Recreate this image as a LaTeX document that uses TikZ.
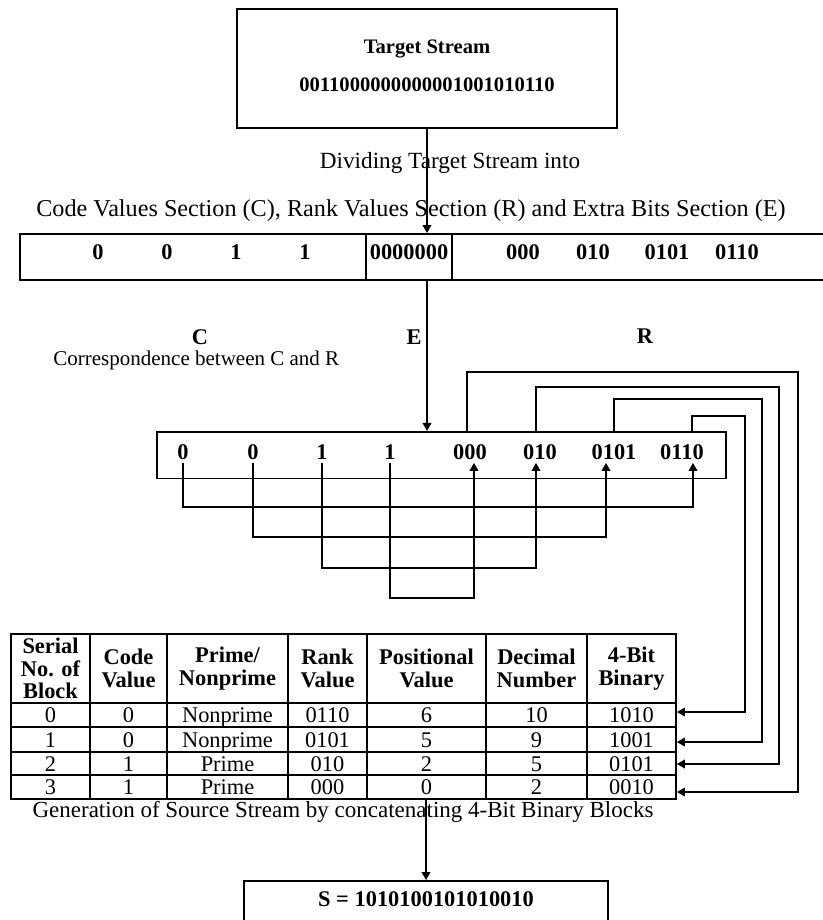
\documentclass[tikz,border=0pt]{standalone}
\usepackage{fontspec}
\setmainfont{Liberation Serif}
\usepackage{tikz}
\usetikzlibrary{arrows.meta, calc, positioning}

\begin{document}
\begin{tikzpicture}[x=0.5pt, y=-0.5pt, >={Triangle[length=4pt, width=4.4pt]},
  every node/.style={inner sep=1.5pt, font=\fontsize{11.2}{11.4}\selectfont},
  bold/.style={font=\fontsize{11.2}{11.4}\selectfont\bfseries},
  topbold/.style={font=\fontsize{10.3}{12}\selectfont\bfseries},
  boxframe/.style={draw, line width=1pt, inner sep=0pt},
  link/.style={line width=0.6pt},
  head/.style={bold, align=center},
  cell/.style={anchor=base},
  tabline/.style={line width=0.8pt}]

  \useasboundingbox (0,0) rectangle (823,920);

  % Target stream
  \node[boxframe, minimum width=190pt, minimum height=59.5pt] (target) at (427,68.5) {};
  \node[topbold] (ttitle) at (427,49) {Target Stream};
  \node[topbold] (tbits) at (427,85) {0011000000000001001010110};

  % Captions
  \node[font=\fontsize{11.6}{12}\selectfont] (divide) at (450,163) {Dividing Target Stream into};
  \node[font=\fontsize{12.1}{12}\selectfont] (sections) at (411,211) {Code Values Section (C), Rank Values Section (R) and Extra Bits Section (E)};

  % Sections bar
  \node[boxframe, minimum width=173pt, minimum height=23pt] (barC) at (193,257) {};
  \node[boxframe, minimum width=43pt, minimum height=23pt] (barE) at (409,257) {};
  \node[boxframe, minimum width=189pt, minimum height=23pt] (barR) at (641,257) {};
  \foreach \x/\v [count=\i] in {98/0, 167/0, 236/1, 305/1, 409/0000000, 523/000, 593/010, 667/0101, 737/0110}
    \node[bold] (bar\i) at (\x,252) {\v};

  \draw[link,->] (target.south) -- (target.south |- barE.north);

  % Section labels
  \node[bold] (lblC) at (200,337) {C};
  \node[bold] (lblE) at (414,337) {E};
  \node[bold] (lblR) at (645,336) {R};
  \node[anchor=west, font=\fontsize{10.5}{12}\selectfont] (corr) at (50,360) {Correspondence between C and R};

  % Correspondence box
  \node[boxframe, line width=0.8pt, minimum width=284.5pt, minimum height=23.3pt] (box2) at (441.5,455) {};
  \foreach \x/\v [count=\i] in {183/0, 253/0, 322/1, 390/1}
    \node[bold] (c\i) at (\x,452) {\v};
  \foreach \x/\v [count=\i] in {470/000, 540/010, 614/0101, 682/0110}
    \node[bold] (r\i) at (\x,452) {\v};

  \draw[link,->] (target.south |- barE.south) -- (target.south |- box2.north);

  % C to R links
  \draw[link,->] (c1.south) -- (c1.south |- 0,507) -| ($(r4.south)+(11,0)$);
  \draw[link,->] (c2.south) -- (c2.south |- 0,537) -| ($(r3.south)+(-8,0)$);
  \draw[link,->] (c3.south) -- (c3.south |- 0,568) -| ($(r2.south)+(-4,0)$);
  \draw[link,->] (c4.south) -- (c4.south |- 0,598) -| ($(r1.south)+(4,0)$);

  % Table
  \node[draw, line width=0.9pt, minimum width=332.5pt, minimum height=82.5pt, inner sep=0pt] (tab) at (343.5,716.5) {};
  \foreach \x in {90,167,288,367,486,587}
    \draw[tabline] (\x,634) -- (\x,799);
  \foreach \y in {703,727,752,775}
    \draw[tabline] (11,\y) -- (676,\y);

  \foreach \x/\t [count=\i] in {50.5/{Serial\\No. of\\Block}, 128.5/{Code\\Value}, 227.5/{Prime/\\Nonprime}, 327.5/{Rank\\Value}, 426.5/{Positional\\Value}, 536.5/{Decimal\\Number}, 631.5/{4-Bit\\Binary}}
    \node[head] (h\i) at (\x,668.5) {\t};

  \foreach \y/\ser/\code/\pn/\rank/\pos/\dec/\bin [count=\i from 0] in {722.5/0/0/Nonprime/0110/6/10/1010, 747/1/0/Nonprime/0101/5/9/1001, 771/2/1/Prime/010/2/5/0101, 794.5/3/1/Prime/000/0/2/0010} {
    \node[cell] (sn\i) at (50.5,\y) {\ser};
    \node[cell] (cv\i) at (128.5,\y) {\code};
    \node[cell] (pn\i) at (227.5,\y) {\pn};
    \node[cell] (rv\i) at (327.5,\y) {\rank};
    \node[cell] (pv\i) at (426.5,\y) {\pos};
    \node[cell] (dn\i) at (536.5,\y) {\dec};
    \node[cell] (bb\i) at (631.5,\y) {\bin};
  }

  % R to table links
  \draw[link,->] ($(r1.north |- box2.north)+(-3,0)$) |- (798,372) |- (tab.east |- 0,792);
  \draw[link,->] ($(r2.north |- box2.north)+(-4,0)$) |- (779,387) |- (tab.east |- 0,764);
  \draw[link,->] (r3.north |- box2.north) |- (762,399) |- (tab.east |- 0,742);
  \draw[link,->] ($(r4.north |- box2.north)+(10,0)$) |- (745,416) |- (tab.east |- 0,712);

  % Source stream
  \node[font=\fontsize{11.5}{12}\selectfont] (gen) at (343,812) {Generation of Source Stream by concatenating 4-Bit Binary Blocks};
  \node[boxframe, line width=0.9pt, minimum width=182pt, minimum height=40pt, anchor=north] (result) at (426,880) {};
  \node[bold] (stext) at (426,899) {S = 1010100101010010};
  \draw[link,->] (result.north |- tab.south) -- (result.north);

\end{tikzpicture}
\end{document}
